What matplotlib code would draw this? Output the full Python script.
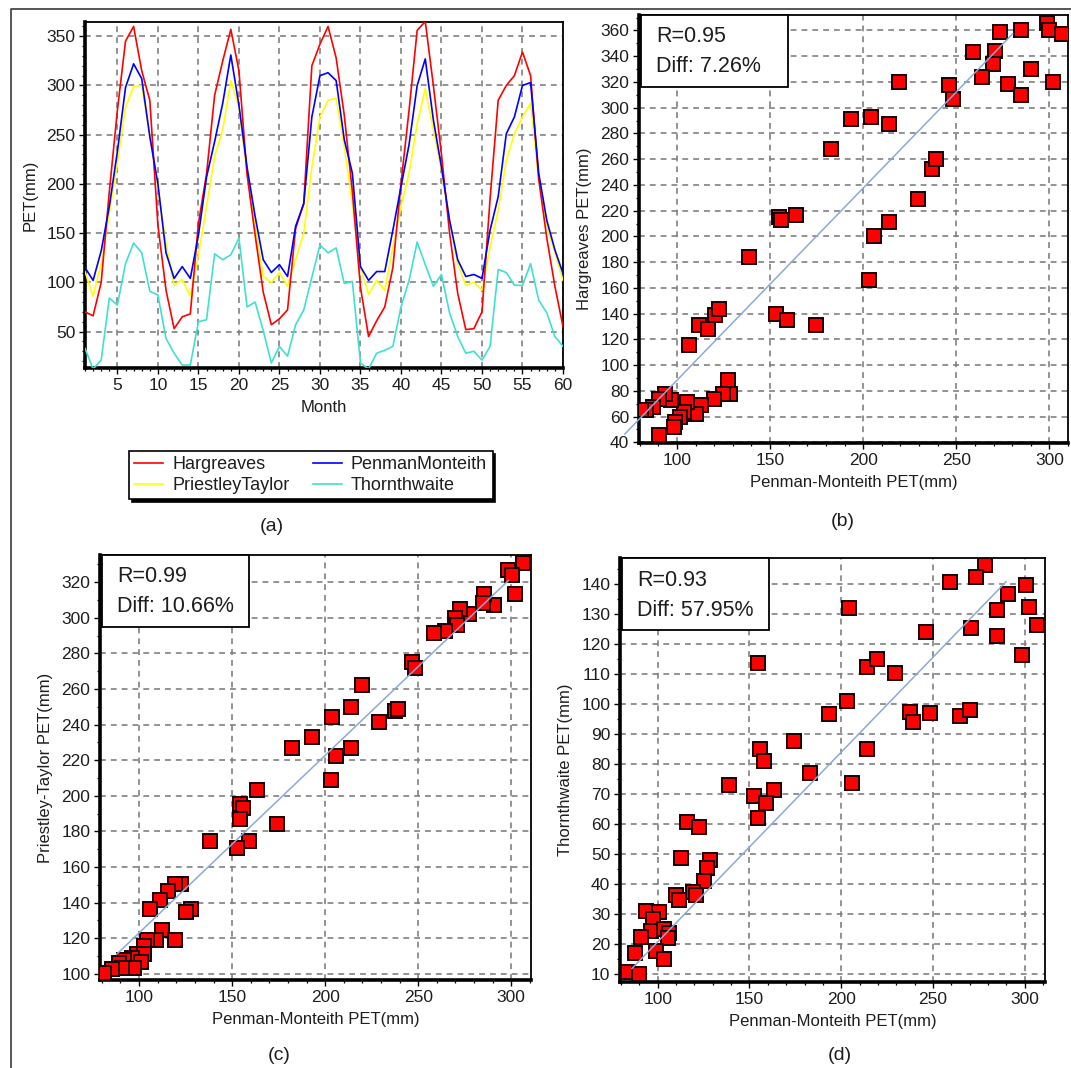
import matplotlib
matplotlib.use("Agg")
import matplotlib.pyplot as plt
from matplotlib.lines import Line2D
from matplotlib.patches import Rectangle
from matplotlib.ticker import MultipleLocator

plt.rcParams['font.family'] = ['Liberation Sans', 'DejaVu Sans']

# ---------------- data: monthly PET series (panel a) ----------------
months = list(range(1, 61))
hargreaves = [70, 66, 100, 192, 275, 345, 360, 315, 285, 158, 92, 53,
              65, 68, 160, 210, 290, 325, 357, 315, 210, 148, 90, 57,
              63, 72, 155, 180, 320, 342, 360, 328, 270, 192, 95, 45,
              61, 75, 115, 200, 275, 356, 365, 300, 230, 150, 89, 52,
              53, 70, 185, 285, 300, 310, 334, 310, 205, 145, 96, 55]
penman = [115, 102, 132, 177, 233, 298, 322, 307, 248, 200, 130, 104,
          116, 104, 148, 207, 243, 282, 331, 280, 217, 167, 123, 110,
          118, 106, 157, 180, 268, 310, 313, 305, 245, 211, 116, 102,
          111, 111, 153, 197, 240, 300, 327, 265, 217, 163, 123, 106,
          108, 104, 153, 187, 251, 268, 300, 303, 211, 163, 133, 109]
priestley = [111, 86, 119, 170, 221, 278, 299, 300, 250, 197, 140, 97,
             103, 86, 128, 177, 228, 255, 305, 278, 211, 157, 106, 100,
             110, 96, 123, 150, 217, 268, 285, 287, 238, 180, 115, 88,
             102, 92, 136, 177, 211, 261, 297, 255, 214, 163, 119, 97,
             100, 92, 136, 173, 224, 251, 268, 282, 204, 157, 130, 102]
thornthwaite = [33, 12, 21, 84, 77, 119, 140, 130, 91, 87, 43, 28,
                16, 16, 60, 62, 129, 123, 128, 145, 75, 80, 51, 18,
                35, 25, 57, 72, 105, 138, 130, 135, 99, 101, 18, 12,
                28, 31, 35, 75, 102, 141, 118, 96, 108, 69, 45, 28,
                30, 21, 35, 113, 110, 97, 97, 119, 82, 69, 45, 35]
series_names = ['Hargreaves', 'PriestleyTaylor', 'PenmanMonteith', 'Thornthwaite']
series_colors = ['#ff0000', '#ffff00', '#0000ff', '#40e0d0']

# ---------------- data: scatter panels ----------------
b_pm = [298.5, 300, 306.7, 284.9, 273.6, 259, 270.7, 269.6, 264, 290.3, 277.6, 284.9, 302.2,
        246.3, 248.1, 219.3, 193.4, 204.2, 213.8, 182.5, 237.2, 239.3, 229.3, 213.8, 206,
        203.3, 154.6, 155.9, 163.8, 138.8, 153.2, 159.2, 174.7, 106.4, 111.8, 116.4, 120.6,
        122.8, 127.3, 128.6, 124.6, 119.7, 112.8, 110, 105.5, 103.6, 101.8, 99.1, 98.2,
        96.9, 93.6, 90.3, 90.3, 87.2, 83.6, 80.9]
b_h = [365.7, 360, 357.4, 360, 358.7, 343, 344, 334, 323.8, 330.2, 318.6, 309.5, 319.9,
       317.3, 307, 319.9, 291.4, 292.7, 287.5, 268, 252.6, 260.3, 229.3, 211.1, 200,
       165.8, 215, 212.4, 216.3, 184, 140, 134.8, 130.9, 115.3, 130.9, 128.3, 138.6,
       143.8, 88.2, 77.8, 77.8, 74, 68.7, 62.3, 71.3, 63.6, 59.7, 55.8, 52,
       72.6, 77.8, 74, 45.4, 67.5, 64.9, 65]

c_pm = [306.5, 298.5, 300.4, 301.9, 290.5, 285.5, 284.6, 277.5, 272.5, 269.8, 270.7, 264.2,
        258.6, 246.6, 248.4, 219.7, 213.7, 203.9, 228.9, 237.3, 239.1, 192.8, 182.2, 213.7,
        205.8, 203, 163.6, 154.4, 155.7, 154.4, 174.2, 138, 158.8, 152.5, 122.3, 119.5,
        115.8, 111.1, 105.9, 127.8, 125, 112.4, 109.3, 119.5, 104.3, 102.8, 99.1, 102.4,
        96.3, 91.7, 89, 101, 97.2, 90.7, 85.2, 81.4]
c_pt = [330.9, 326.7, 324.2, 313.3, 307, 313.3, 308.5, 302.2, 304.7, 300, 296, 292.8,
        291.2, 275, 272, 262.5, 250, 244.2, 241.7, 247.5, 249, 233.1, 226.6, 226.6,
        222.2, 209.1, 203.4, 195.3, 193.4, 187.1, 184.2, 174.6, 174.6, 170.8, 150.6, 150.6,
        146.4, 141.2, 136.3, 136.3, 134.9, 124.7, 119, 119, 119, 115.7, 111, 111,
        109, 108, 106, 106.7, 103.3, 103.3, 102.9, 100.4]

d_pm = [278.2, 273.6, 259.1, 300.6, 290.7, 285.1, 302.2, 270.6, 246.4, 306.9, 285.1, 298.7,
        204.4, 154.5, 214, 219.6, 229.3, 203.3, 193.4, 237.3, 239.2, 248.3, 264.7, 270.2,
        174.4, 214, 155.8, 158.2, 182.8, 206, 138.7, 152.7, 163.6, 159.2, 154.5, 115.8,
        122.3, 112.5, 128.5, 127, 125.1, 119.5, 120.8, 109.9, 111.7, 93.9, 100.6, 97.6,
        96.3, 103.2, 106.1, 105.6, 90.7, 87.5, 99.1, 103.7, 83.8, 90.1]
d_th = [146.2, 142.3, 140.6, 139.4, 136.6, 131.1, 132.1, 125.2, 123.9, 126.1, 122.4, 116.2,
        131.7, 113.5, 112.2, 114.7, 110.1, 100.8, 96.5, 97.1, 93.7, 96.9, 95.7, 98,
        87.5, 84.9, 84.9, 81, 76.8, 73.4, 72.7, 69.3, 71.1, 66.8, 61.7, 60.5,
        58.8, 48.6, 48, 45.2, 40.9, 37.2, 36.3, 36.1, 34.4, 31, 30.4, 28.2,
        24.2, 25, 23.4, 22, 22.1, 16.8, 17.4, 14.8, 10.6, 10]

# fitted lines (end points)
b_fit_x, b_fit_y = [72, 280.3], [46.5, 357.4]
c_fit_x, c_fit_y = [87.9, 298.5], [110.9, 321]
d_fit_x, d_fit_y = [86, 289.8], [11.7, 140.6]

stats = {'b': ('R=0.95', 'Diff: 7.26%'),
         'c': ('R=0.99', 'Diff: 10.66%'),
         'd': ('R=0.93', 'Diff: 57.95%')}

# ---------------- figure ----------------
W, H = 1071, 1068
fig = plt.figure(figsize=(W / 100, H / 100), dpi=100)
TXT = '#1e1e1e'


def add_axes(l, t, r, b):
    ax = fig.add_axes([l / W, 1 - b / H, (r - l) / W, (b - t) / H])
    return ax, (r - l), (b - t)


def style(ax):
    for s in ['left', 'bottom']:
        ax.spines[s].set_linewidth(2.6)
    for s in ['top', 'right']:
        ax.spines[s].set_linewidth(1.3)
    for s in ax.spines.values():
        s.set_color('black')
    ax.tick_params(which='major', direction='out', length=4, width=1, labelsize=12.5,
                   labelcolor=TXT, pad=3)
    ax.tick_params(which='minor', direction='out', length=2.5, width=0.9)
    ax.grid(True, which='major', color='#808080', linestyle=(0, (3.5, 3)), linewidth=1.2)
    ax.set_axisbelow(True)


# Panel (a)
axa, _, _ = add_axes(85, 22, 563, 368)
data_a = {'Hargreaves': hargreaves, 'PriestleyTaylor': priestley,
          'PenmanMonteith': penman, 'Thornthwaite': thornthwaite}
draw_order = ['Thornthwaite', 'PriestleyTaylor', 'Hargreaves', 'PenmanMonteith']
cmap = dict(zip(series_names, series_colors))
for name in draw_order:
    axa.plot(months, data_a[name], color=cmap[name], lw=1.2, zorder=3)
axa.set_xlim(1, 60)
axa.set_ylim(13, 364.5)
axa.xaxis.set_major_locator(MultipleLocator(5))
axa.xaxis.set_minor_locator(MultipleLocator(1))
axa.yaxis.set_major_locator(MultipleLocator(50))
axa.yaxis.set_minor_locator(MultipleLocator(10))
style(axa)
axa.set_xlabel('Month', fontsize=12, color=TXT, labelpad=5)
axa.set_ylabel('PET(mm)', fontsize=12, color=TXT, labelpad=6)

handles = [Line2D([], [], color=cmap[n], lw=1.2) for n in series_names]
leg = fig.legend(handles, series_names, ncol=2, loc='upper left',
                 bbox_to_anchor=(129 / W, 1 - 451 / H), frameon=True, fancybox=False,
                 edgecolor='black', fontsize=13, borderpad=0.3, labelspacing=0.2,
                 handlelength=1.6, handletextpad=0.5, columnspacing=1.3,
                 borderaxespad=0,
                 shadow={'facecolor': 'black', 'edgecolor': 'black', 'alpha': 1})
leg.get_frame().set_linewidth(1.2)
for t in leg.get_texts():
    t.set_color(TXT)


def scatter_panel(ax, aw, ah, x, y, fx, fy, key, xlim, ylim, ystep, yminor, ylabel, fit_clip=True):
    ax.plot(x, y, linestyle='none', marker='s', markersize=10, markerfacecolor='#ff0000',
            markeredgecolor='#1a0000', markeredgewidth=1.4, zorder=3)
    ax.plot(fx, fy, color='#8aaad8', lw=1.1, zorder=4, clip_on=fit_clip)
    ax.set_xlim(*xlim)
    ax.set_ylim(*ylim)
    ax.xaxis.set_major_locator(MultipleLocator(50))
    ax.xaxis.set_minor_locator(MultipleLocator(10))
    ax.yaxis.set_major_locator(MultipleLocator(ystep))
    ax.yaxis.set_minor_locator(MultipleLocator(yminor))
    style(ax)
    ax.set_xlabel('Penman-Monteith PET(mm)', fontsize=12, color=TXT, labelpad=5)
    ax.set_ylabel(ylabel, fontsize=12, color=TXT, labelpad=6)
    bw, bh = 147, 72
    ax.add_patch(Rectangle((2 / aw, 1 - bh / ah), bw / aw, bh / ah, transform=ax.transAxes,
                           facecolor='white', edgecolor='black', lw=1.3, zorder=6, clip_on=False))
    l1, l2 = stats[key]
    ax.text(17 / aw, 1 - 22 / ah, l1, transform=ax.transAxes, fontsize=15.5, color=TXT,
            ha='left', va='center', zorder=7)
    ax.text(17 / aw, 1 - 52 / ah, l2, transform=ax.transAxes, fontsize=15.5, color=TXT,
            ha='left', va='center', zorder=7)


axb, bw_, bh_ = add_axes(639, 15, 1068, 443)
scatter_panel(axb, bw_, bh_, b_pm, b_h, b_fit_x, b_fit_y, 'b', (79.6, 310), (39.5, 372),
              20, 10, 'Hargreaves PET(mm)', fit_clip=False)

axc, cw_, ch_ = add_axes(100, 555, 531, 980)
scatter_panel(axc, cw_, ch_, c_pm, c_pt, c_fit_x, c_fit_y, 'c', (79, 310.6), (96.5, 335.3),
              20, 10, 'Priestley-Taylor PET(mm)')

axd, dw_, dh_ = add_axes(620, 558, 1045, 982)
scatter_panel(axd, dw_, dh_, d_pm, d_th, d_fit_x, d_fit_y, 'd', (79.5, 311), (7.2, 148.5),
              10, 5, 'Thornthwaite PET(mm)')

# panel captions
for lab, (px, py) in {'(a)': (272, 527), '(b)': (843, 522),
                      '(c)': (279, 1055), '(d)': (840, 1056)}.items():
    fig.text(px / W, 1 - py / H, lab, fontsize=14, color=TXT, ha='center', va='center')

# outer frame lines (left and top)
fig.add_artist(Line2D([10.5 / W, 10.5 / W, 1.0], [0.0, 1 - 9 / H, 1 - 9 / H],
                      transform=fig.transFigure, color='#3a3a3a', lw=1.2))

fig.savefig('out.png', dpi=100, facecolor='white')
